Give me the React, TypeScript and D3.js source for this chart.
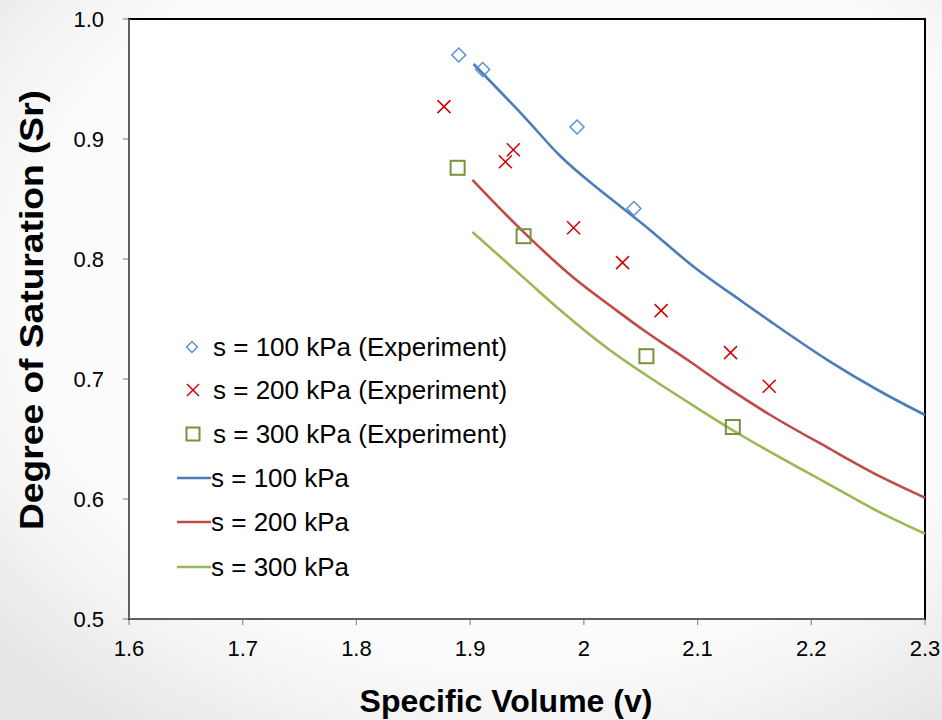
import React from "react";
import * as d3 from "d3";

const xTicks = [1.6, 1.7, 1.8, 1.9, 2.0, 2.1, 2.2, 2.3];
const yTicks = [0.5, 0.6, 0.7, 0.8, 0.9, 1.0];

const exp100: [number, number][] = [
  [1.89, 0.970], [1.911, 0.958], [1.994, 0.910], [2.044, 0.842],
];
const exp200: [number, number][] = [
  [1.877, 0.927], [1.938, 0.891], [1.931, 0.881], [1.991, 0.826],
  [2.034, 0.797], [2.068, 0.757], [2.129, 0.722], [2.163, 0.694],
];
const exp300: [number, number][] = [
  [1.889, 0.876], [1.947, 0.819], [2.055, 0.719], [2.131, 0.660],
];
const model100: [number, number][] = [
  [1.903, 0.9625], [1.95, 0.916], [1.979, 0.886], [2.008, 0.862], [2.032, 0.844],
  [2.052, 0.829], [2.096, 0.794], [2.14, 0.764], [2.164, 0.748], [2.214, 0.716],
  [2.26, 0.690], [2.3, 0.670],
];
const model200: [number, number][] = [
  [1.902, 0.866], [1.941, 0.828], [1.994, 0.782], [2.029, 0.757], [2.052, 0.741],
  [2.091, 0.716], [2.126, 0.693], [2.164, 0.670], [2.214, 0.643], [2.26, 0.619],
  [2.3, 0.601],
];
const model300: [number, number][] = [
  [1.902, 0.8225], [1.95, 0.782], [1.976, 0.760], [2.023, 0.724], [2.052, 0.705],
  [2.096, 0.678], [2.135, 0.655], [2.155, 0.644], [2.214, 0.613], [2.26, 0.589],
  [2.3, 0.571],
];

const legendLabels = [
  "s = 100 kPa (Experiment)",
  "s = 200 kPa (Experiment)",
  "s = 300 kPa (Experiment)",
  "s = 100 kPa",
  "s = 200 kPa",
  "s = 300 kPa",
];

const C_DIAMOND = "#558ED5";
const C_CROSS = "#D40000";
const C_SQUARE = "#77933C";
const C_L100 = "#4A7EBB";
const C_L200 = "#BE4B48";
const C_L300 = "#98B954";

const W = 942, H = 720;
const left = 129, right = 925, top = 19, bottom = 619;

const Diamond = ({ x, y, r = 7 }: { x: number; y: number; r?: number }) => (
  <polygon
    points={`${x},${y - r} ${x + r},${y} ${x},${y + r} ${x - r},${y}`}
    fill="none" stroke={C_DIAMOND} strokeWidth={1.4}
  />
);
const Cross = ({ x, y, r = 6.5 }: { x: number; y: number; r?: number }) => (
  <g stroke={C_CROSS} strokeWidth={1.5}>
    <line x1={x - r} y1={y - r} x2={x + r} y2={y + r} />
    <line x1={x - r} y1={y + r} x2={x + r} y2={y - r} />
  </g>
);
const Square = ({ x, y, r = 7 }: { x: number; y: number; r?: number }) => (
  <rect x={x - r} y={y - r} width={2 * r} height={2 * r} fill="none" stroke={C_SQUARE} strokeWidth={2} />
);

export default function App() {
  const x = d3.scaleLinear().domain([1.6, 2.3]).range([left, right]);
  const y = d3.scaleLinear().domain([0.5, 1.0]).range([bottom, top]);
  const line = d3.line<[number, number]>().x(d => x(d[0])).y(d => y(d[1])).curve(d3.curveMonotoneX);

  const font = "'Liberation Sans', Arial, sans-serif";

  const legendRows = [347, 390, 434, 478, 522, 567];
  const lineColors = [C_L100, C_L200, C_L300];

  return (
    <svg width={W} height={H} style={{ position: "absolute", left: 0, top: 0 }}>
      <defs>
        <radialGradient id="bg" cx="55%" cy="40%" r="75%">
          <stop offset="0%" stopColor="#ffffff" />
          <stop offset="70%" stopColor="#fbfbfb" />
          <stop offset="100%" stopColor="#e6e6e6" />
        </radialGradient>
      </defs>
      <rect x={0} y={0} width={W} height={H} fill="url(#bg)" />
      <rect x={left} y={top} width={right - left} height={bottom - top} fill="#fff" />

      {/* ticks */}
      {yTicks.map(t => (
        <g key={"y" + t}>
          <line x1={left - 6} x2={left} y1={y(t)} y2={y(t)} stroke="#8c8c8c" strokeWidth={1.2} />
          <text x={104} y={y(t)} dy="0.35em" textAnchor="end" fontFamily={font} fontSize={22} fill="#000">
            {t.toFixed(1)}
          </text>
        </g>
      ))}
      {xTicks.map(t => (
        <g key={"x" + t}>
          <line x1={x(t)} x2={x(t)} y1={bottom} y2={bottom + 6} stroke="#8c8c8c" strokeWidth={1.2} />
          <text x={x(t)} y={656} textAnchor="middle" fontFamily={font} fontSize={22} fill="#000">
            {Math.abs(t - 2) < 1e-9 ? "2" : t.toFixed(1)}
          </text>
        </g>
      ))}

      {/* frame */}
      <rect x={left} y={top} width={right - left} height={bottom - top} fill="none" stroke="#000" strokeWidth={2} />
      <line x1={left} x2={left} y1={top} y2={bottom} stroke="#7f7f7f" strokeWidth={1.5} />
      <line x1={left} x2={right} y1={bottom} y2={bottom} stroke="#7f7f7f" strokeWidth={1.5} />

      {/* model lines */}
      <path d={line(model100) || ""} fill="none" stroke={C_L100} strokeWidth={2.6} />
      <path d={line(model200) || ""} fill="none" stroke={C_L200} strokeWidth={2.6} />
      <path d={line(model300) || ""} fill="none" stroke={C_L300} strokeWidth={2.6} />

      {/* experiment markers */}
      {exp100.map((d, i) => <Diamond key={"d" + i} x={x(d[0])} y={y(d[1])} />)}
      {exp200.map((d, i) => <Cross key={"c" + i} x={x(d[0])} y={y(d[1])} />)}
      {exp300.map((d, i) => <Square key={"s" + i} x={x(d[0])} y={y(d[1])} />)}

      {/* legend */}
      <Diamond x={192} y={legendRows[0]} r={5.5} />
      <Cross x={193} y={legendRows[1]} r={6} />
      <Square x={193} y={legendRows[2]} r={6.5} />
      {[3, 4, 5].map(i => (
        <line key={"ll" + i} x1={177} x2={211} y1={legendRows[i]} y2={legendRows[i]} stroke={lineColors[i - 3]} strokeWidth={2.6} />
      ))}
      {legendLabels.map((lab, i) => (
        <text key={"lt" + i} x={i < 3 ? 213 : 211} y={legendRows[i]} dy="0.36em" fontFamily={font} fontSize={26} fill="#000">
          {lab}
        </text>
      ))}

      {/* axis titles */}
      <text x={506} y={712} textAnchor="middle" fontFamily={font} fontWeight="bold" fontSize={32} fill="#000">
        Specific Volume (v)
      </text>
      <text transform={`translate(43, 310) rotate(-90)`} textAnchor="middle" fontFamily={font} fontWeight="bold" fontSize={34}
        textLength={440} lengthAdjust="spacingAndGlyphs" fill="#000">
        Degree of Saturation (Sr)
      </text>
    </svg>
  );
}
